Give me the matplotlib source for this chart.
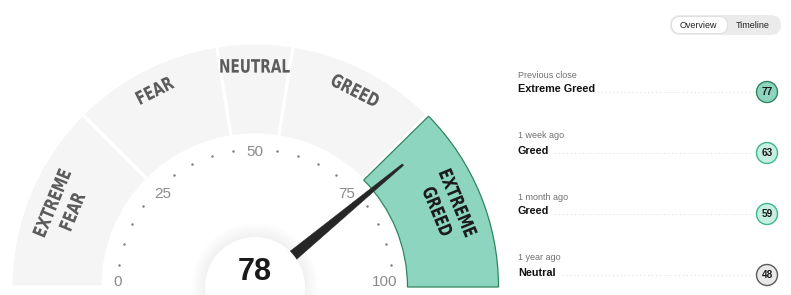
import numpy as np
import matplotlib
matplotlib.use("Agg")
import matplotlib.pyplot as plt
from matplotlib.patches import Wedge, Circle, Polygon, PathPatch, FancyBboxPatch
from matplotlib.textpath import TextPath
from matplotlib.font_manager import FontProperties
from matplotlib.transforms import Affine2D

# ---------------- data ----------------
value = 78
zone_bounds = [0, 25, 45, 55, 75, 100]
zone_labels = ["EXTREME\nFEAR", "FEAR", "NEUTRAL", "GREED", "EXTREME\nGREED"]
tick_labels = [0, 25, 50, 75, 100]
minor_ticks = [v for v in range(5, 100, 5) if v % 25 != 0]
history_periods = ["Previous close", "1 week ago", "1 month ago", "1 year ago"]
history_ratings = ["Extreme Greed", "Greed", "Greed", "Neutral"]
history_values = [77, 63, 59, 48]
toggle_labels = ["Overview", "Timeline"]

# ---------------- styles ----------------
W, H = 791, 295
CX, CY = 255, 295 - 287
R_OUT, R_IN = 244, 152
GREY_FILL = "#f5f5f5"
GREEN_FILL = "#8dd5bf"
GREEN_EDGE = "#2f8560"
badge_style = {
    "Extreme Greed": ("#8dd5bf", "#2f8560"),
    "Greed": ("#c6efe2", "#3cb889"),
    "Neutral": ("#e8e8e8", "#5a5a5a"),
    "Fear": ("#fbd5c8", "#c8553d"),
    "Extreme Fear": ("#f49a86", "#a33a26"),
}

fig = plt.figure(figsize=(W / 100, H / 100), dpi=100)
ax = fig.add_axes([0, 0, 1, 1])
ax.set_xlim(0, W)
ax.set_ylim(0, H)
ax.axis("off")


def ang(v):
    return 180.0 - 1.8 * v


def polar(r, v):
    a = np.deg2rad(ang(v))
    return CX + r * np.cos(a), CY + r * np.sin(a)


def ctext(s, x, y, rot, size, sx, color, z=5):
    fp = FontProperties(family="DejaVu Sans", weight="bold")
    tp = TextPath((0, 0), s, prop=fp, size=size)
    bb = tp.get_extents()
    tr = (Affine2D().translate(-(bb.x0 + bb.x1) / 2, -(bb.y0 + bb.y1) / 2)
          .scale(sx, 1).rotate_deg(rot).translate(x, y))
    ax.add_patch(PathPatch(tr.transform_path(tp), fc=color, ec="none", lw=0, zorder=z))


# ---------------- gauge bands ----------------
active = None
for i in range(len(zone_labels)):
    if zone_bounds[i] <= value <= zone_bounds[i + 1]:
        active = i
for i, lab in enumerate(zone_labels):
    v0, v1 = zone_bounds[i], zone_bounds[i + 1]
    t1, t2 = ang(v1), ang(v0)
    if i == active:
        gap = np.rad2deg(1.6 / 198)
        ax.add_patch(Wedge((CX, CY), R_OUT - 0.5, t1 + (gap if v1 < 100 else 0),
                           t2 - (gap if v0 > 0 else 0), width=R_OUT - R_IN - 1,
                           fc=GREEN_FILL, ec=GREEN_EDGE, lw=0.9, zorder=2))
        col = "#1c1c1c"
    else:
        ax.add_patch(Wedge((CX, CY), R_OUT, t1, t2, width=R_OUT - R_IN,
                           fc=GREY_FILL, ec="white", lw=2.3, zorder=1))
        col = "#5c5c5c"
    vm = (v0 + v1) / 2
    rot = ang(vm) - 90
    lines = lab.split("\n")
    if len(lines) == 1:
        x, y = polar(221, vm)
        ctext(lines[0], x, y, rot, 18.5, 0.74, col)
    else:
        for ln, r in zip(lines, [220, 198]):
            x, y = polar(r, vm)
            ctext(ln, x, y, rot, 18.5, 0.74, col)

# ---------------- ticks ----------------
dots = np.array([polar(138, v) for v in minor_ticks])
ax.scatter(dots[:, 0], dots[:, 1], s=3.2, c="#808080", lw=0, zorder=3)
for v in tick_labels:
    x, y = polar(142, v)
    ha = "left" if v < 50 else ("right" if v > 50 else "center")
    va = "baseline" if v in (0, 100) else "top"
    ax.text(x, y + (1 if va == "baseline" else 0), str(v), ha=ha, va=va, fontsize=11,
            family="Liberation Sans", color="#8a8a8a", zorder=3)

# ---------------- needle ----------------
a = np.deg2rad(ang(value))
d = np.array([np.cos(a), np.sin(a)])
n = np.array([-d[1], d[0]])
c = np.array([CX, CY])
r0, r1, w0, w1 = 40, 192, 5.5, 1.0
needle = [c + r0 * d + w0 * n, c + r1 * d + w1 * n, c + r1 * d - w1 * n, c + r0 * d - w0 * n]
ax.add_patch(Polygon(needle, closed=True, fc="#262626", ec="#262626", lw=0.3, zorder=6))

# ---------------- center hub ----------------
for k in range(14):
    ax.add_patch(Circle((CX, CY + 1), 50.5 + k, fc="black", ec="none", alpha=0.0045, zorder=4))
ax.add_patch(Circle((CX, CY), 50, fc="white", ec="none", zorder=7))
ax.text(CX, 295 - 272, str(value), ha="center", va="center", fontsize=22,
        family="Liberation Sans", weight="bold", color="#1a1a1a", zorder=8)

# ---------------- toggle ----------------
ax.add_patch(FancyBboxPatch((670, 260), 111, 20, boxstyle="round,pad=0,rounding_size=10",
                            fc="#ebebeb", ec="none", lw=0, zorder=1))
ax.add_patch(FancyBboxPatch((671.5, 261.5), 56, 17, boxstyle="round,pad=0,rounding_size=8.5",
                            fc="white", ec="#dcdcdc", lw=0.6, zorder=2))
for lab, x in zip(toggle_labels, [698, 753]):
    ax.text(x, 270, lab, ha="center", va="center", fontsize=6.5,
            family="Liberation Sans", color="#222222", zorder=3)

# ---------------- history list ----------------
fig.canvas.draw()
renderer = fig.canvas.get_renderer()
for i, (per, rat, val) in enumerate(zip(history_periods, history_ratings, history_values)):
    y0 = 295 - (75 + 61 * i)
    ax.text(518, y0, per, ha="left", va="center", fontsize=6.5,
            family="Liberation Sans", color="#707070")
    t = ax.text(518, y0 - 14.5, rat, ha="left", va="center", fontsize=7.8,
                family="Liberation Sans", weight="bold", color="#111111")
    bb = t.get_window_extent(renderer)
    yc = y0 - 17
    ax.plot([bb.x1 + 6, 753], [yc, yc], ls=(0, (1, 3)), lw=0.7, color="#d6d6d6", zorder=1)
    fc, ec = badge_style[rat]
    ax.add_patch(Circle((767, yc), 10.5, fc=fc, ec=ec, lw=1.0, zorder=2))
    ax.text(767, yc, str(val), ha="center", va="center", fontsize=7.2,
            family="Liberation Sans", weight="bold", color="#1a1a1a", zorder=3)

fig.savefig("out.png", dpi=100)
